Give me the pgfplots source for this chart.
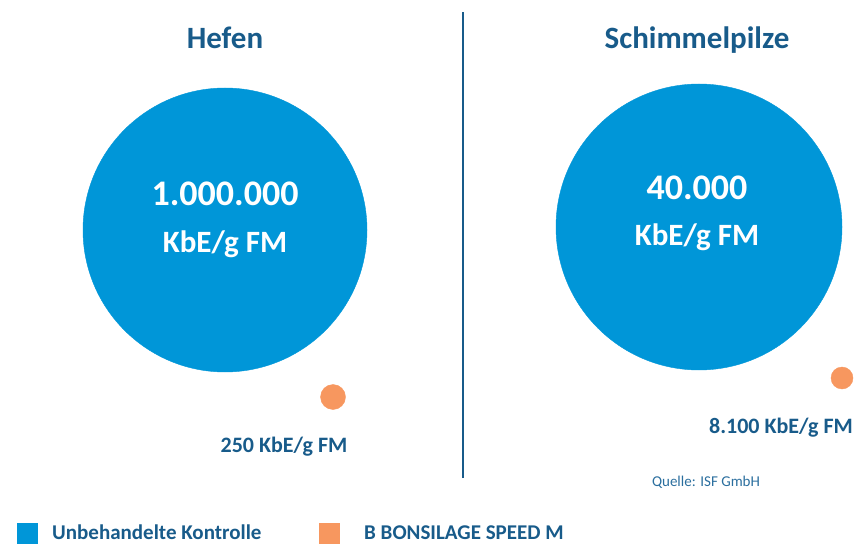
\documentclass[border=0pt]{standalone}
\usepackage{pgfplots}
\pgfplotsset{compat=1.18}
\usepackage{fontspec}
\setmainfont{Carlito}
\definecolor{cblue}{HTML}{0096D8}
\definecolor{corange}{HTML}{F7975F}
\definecolor{ctext}{HTML}{185B8A}
\definecolor{csrc}{HTML}{2A6E9E}
\newcommand{\fs}[1]{\fontsize{#1}{#1}\selectfont}
\begin{document}
\begin{tikzpicture}
\useasboundingbox (0,0) rectangle (864pt,544pt);
\begin{axis}[
  width=864pt, height=544pt, scale only axis,
  xmin=0, xmax=864, ymin=0, ymax=544,
  hide axis, clip=false,
]
% big circles: Unbehandelte Kontrolle
\addplot[only marks, mark=*, mark size=142, color=cblue, mark options={draw=none, fill=cblue}] coordinates {(225,314)};
\addplot[only marks, mark=*, mark size=143, color=cblue, mark options={draw=none, fill=cblue}] coordinates {(699,317)};
% small circles: B BONSILAGE SPEED M
\addplot[only marks, mark=*, mark size=12.5, color=corange, mark options={draw=none, fill=corange}] coordinates {(333,147)};
\addplot[only marks, mark=*, mark size=11, color=corange, mark options={draw=none, fill=corange}] coordinates {(842,166)};
% divider
\addplot[ctext, line width=2.5pt] coordinates {(463,66) (463,532)};
% legend squares
\addplot[only marks, mark=square*, mark size=10, color=cblue, mark options={draw=none, fill=cblue}] coordinates {(27,11)};
\addplot[only marks, mark=square*, mark size=10, color=corange, mark options={draw=none, fill=corange}] coordinates {(329,11)};

\coordinate (L1) at (axis cs:225,338);
\coordinate (L2) at (axis cs:225,291);
\coordinate (R1) at (axis cs:697,344);
\coordinate (R2) at (axis cs:697,298);

\node[anchor=base, inner sep=0, text=ctext, font=\fs{31}\bfseries] at (axis cs:225,495) {Hefen};
\node[anchor=base, inner sep=0, text=ctext, font=\fs{31}\bfseries] at (axis cs:697,495) {Schimmelpilze};

\node[anchor=base, inner sep=0, text=ctext, font=\fs{22}\bfseries] at (axis cs:284,92) {250 KbE/g FM};
\node[anchor=base, inner sep=0, text=ctext, font=\fs{22}\bfseries] at (axis cs:781,111) {8.100 KbE/g FM};

\node[anchor=base, inner sep=0, text=csrc, font=\fs{15}] at (axis cs:706,58) {Quelle: ISF GmbH};

\node[anchor=base west, inner sep=0, text=ctext, font=\fs{21}\bfseries] at (axis cs:52,5) {Unbehandelte Kontrolle};
\node[anchor=base west, inner sep=0, text=ctext, font=\fs{21}\bfseries] at (axis cs:364,5) {B BONSILAGE SPEED M};
\end{axis}
\node[anchor=base, inner sep=0, text=white, font=\fs{36}\bfseries] at (L1) {1.000.000};
\node[anchor=base, inner sep=0, text=white, font=\fs{31}\bfseries] at (L2) {KbE/g FM};
\node[anchor=base, inner sep=0, text=white, font=\fs{36}\bfseries] at (R1) {40.000};
\node[anchor=base, inner sep=0, text=white, font=\fs{31}\bfseries] at (R2) {KbE/g FM};
\end{tikzpicture}
\end{document}
